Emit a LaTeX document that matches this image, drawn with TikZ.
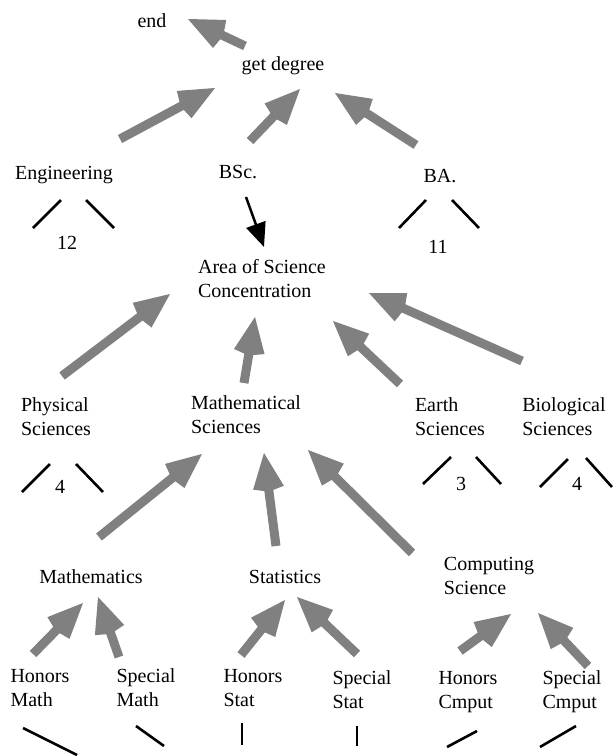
\documentclass[tikz,border=0pt]{standalone}
\usepackage{fontspec}
\setmainfont{Liberation Serif}
\usepackage{xcolor}
\definecolor{grisFlecha}{HTML}{808080}
\usepackage{tikz}
\usetikzlibrary{arrows.meta,calc}

\begin{document}
\begin{tikzpicture}[x=1pt,y=-1pt,font=\fontsize{20}{24}\selectfont,
    etiq/.style={align=left,inner sep=0pt},
    flecha/.style={grisFlecha,line width=9pt,
        -{Kite[length=39pt,width=31pt,inset=4pt]}},
    rama/.style={line width=2.6pt}]

\useasboundingbox (0,0) rectangle (616,756);

% Nodos
\node[etiq] (fin) at (152,21) {end};
\node[etiq] (getdeg) at (283,66) {get degree};

\node[etiq] (eng) at (64,175) {Engineering};
\node[etiq] (bsc) at (238,172) {BSc.};
\node[etiq] (ba) at (440,176) {BA.};

\node[etiq] (n12) at (67,243) {12};
\node[etiq] (n11) at (438,247) {11};

\node[etiq] (area) at (262,279) {Area of Science\\Concentration};

\node[etiq] (phys) at (56,417) {Physical\\Sciences};
\node[etiq] (mathsci) at (246,415) {Mathematical\\Sciences};
\node[etiq] (earth) at (450,417) {Earth\\Sciences};
\node[etiq] (bio) at (564,417) {Biological\\Sciences};

\node[etiq] (n4a) at (60,487) {4};
\node[etiq] (n3) at (461,484) {3};
\node[etiq] (n4b) at (577,484) {4};

\node[etiq] (maths) at (91,577) {Mathematics};
\node[etiq] (stats) at (285,577) {Statistics};
\node[etiq] (comp) at (489,576) {Computing\\Science};

\node[etiq] (hmath) at (40,688) {Honors\\Math};
\node[etiq] (smath) at (146,688) {Special\\Math};
\node[etiq] (hstat) at (253,688) {Honors\\Stat};
\node[etiq] (sstat) at (362,690) {Special\\Stat};
\node[etiq] (hcmp) at (468,692) {Honors\\Cmput};
\node[etiq] (scmp) at (572,692) {Special\\Cmput};

% Flechas grises
\draw[flecha] ($(getdeg)+(-38,-20)$) -- ($(fin)+(36,-2)$);

\draw[flecha] ($(eng)+(56,-36)$) -- ($(getdeg)+(-68,22)$);
\draw[flecha] ($(bsc)+(12,-31)$) -- ($(getdeg)+(17,23)$);
\draw[flecha] ($(ba)+(-24,-31)$) -- ($(getdeg)+(52,27)$);

\draw[flecha] ($(phys)+(6,-41)$) -- ($(area)+(-92,15)$);
\draw[flecha] ($(mathsci)+(-2,-32)$) -- ($(area)+(-7,38)$);
\draw[flecha] ($(earth)+(-50,-33)$) -- ($(area)+(71,42)$);
\draw[flecha] ($(bio)+(-42,-56)$) -- ($(area)+(107,14)$);

\draw[flecha] ($(maths)+(8,-40)$) -- ($(mathsci)+(-44,39)$);
\draw[flecha] ($(stats)+(-9,-31)$) -- ($(mathsci)+(18,38)$);
\draw[flecha] ($(comp)+(-77,-23)$) -- ($(mathsci)+(62,35)$);

\draw[flecha] ($(hmath)+(-7,-34)$) -- ($(maths)+(-8,26)$);
\draw[flecha] ($(smath)+(-27,-31)$) -- ($(maths)+(7,20)$);
\draw[flecha] ($(hstat)+(-12,-33)$) -- ($(stats)+(0,23)$);
\draw[flecha] ($(sstat)+(-5,-36)$) -- ($(stats)+(12,20)$);
\draw[flecha] ($(hcmp)+(-8,-41)$) -- ($(comp)+(22,38)$);
\draw[flecha] ($(scmp)+(16,-26)$) -- ($(comp)+(49,37)$);

% Flecha negra
\draw[line width=2.5pt,-{Triangle[length=24pt,width=20pt]}]
    ($(bsc)+(8,25)$) -- ($(area)+(2,-32)$);

% Ramas
\draw[rama] (33,228) -- (61,200);
\draw[rama] (86,200) -- (114,228);
\draw[rama] (399,228) -- (426,200);
\draw[rama] (452,200) -- (479,228);

\draw[rama] (22,492) -- (50,464);
\draw[rama] (76,464) -- (103,492);
\draw[rama] (423,484) -- (451,457);
\draw[rama] (476,457) -- (501,484);
\draw[rama] (540,487) -- (568,459);
\draw[rama] (586,458) -- (612,487);

\draw[rama] (23,728) -- (77,755);
\draw[rama] (136,726) -- (164,746);
\draw[rama] (242,723) -- (242,745);
\draw[rama] (357,726) -- (357,746);
\draw[rama] (447,747) -- (477,731);
\draw[rama] (540,747) -- (576,726);

\end{tikzpicture}
\end{document}
